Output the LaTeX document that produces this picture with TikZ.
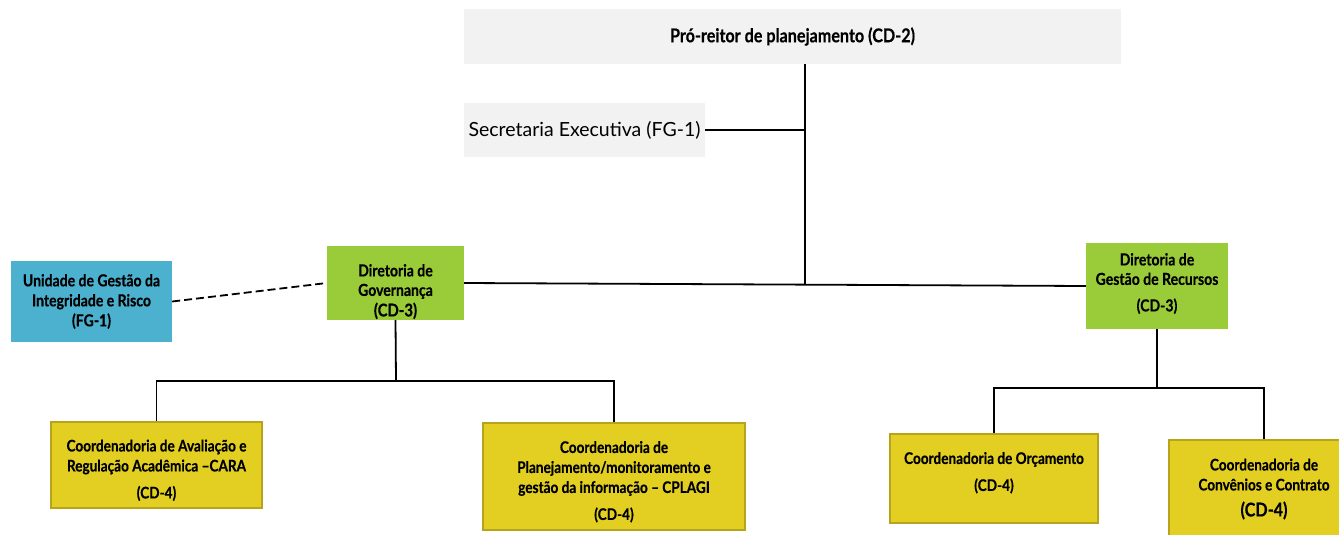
\documentclass[tikz,border=0pt]{standalone}
\usepackage{fontspec}
\setmainfont{Lato}
\newfontfamily\condfont{Lato}[FakeStretch=0.85,FakeBold=0.4]
\definecolor{cinza}{HTML}{F2F2F2}
\definecolor{verde}{HTML}{9ACB38}
\definecolor{azul}{HTML}{4BB1CF}
\definecolor{amarelo}{HTML}{E3CF22}
\definecolor{borda}{HTML}{B8A41C}
\begin{document}
\begin{tikzpicture}[x=1pt,y=-1pt,
	caixa/.style={align=center,inner sep=2pt,font=\condfont\bfseries\fontsize{16}{20}\selectfont},
	chefe/.style={caixa,fill=cinza,font=\condfont\bfseries\fontsize{19}{22}\selectfont},
	diretoria/.style={caixa,fill=verde,font=\condfont\bfseries\fontsize{16.5}{19.5}\selectfont},
	unidade/.style={caixa,fill=azul,font=\condfont\bfseries\fontsize{16.5}{20}\selectfont},
	coord/.style={caixa,fill=amarelo,draw=borda,line width=2pt},
	linha/.style={draw,line width=1.8pt}]
	\useasboundingbox[fill=white] (0,0) rectangle (1339,535);

	\node[chefe,minimum width=657,minimum height=55] (pro) at (792.5,36.5) {Pró-reitor de planejamento (CD-2)};
	\node[fill=cinza,minimum width=241,minimum height=54,font=\fontsize{19.5}{22}\selectfont,inner sep=0pt] (sec) at (584.5,130) {Secretaria Executiva (FG-1)};
	\node[diretoria,minimum width=137,minimum height=74] (gov) at (395.5,283) {Diretoria de\\Governança\\[1pt]{\fontsize{17.5}{20}\selectfont(CD-3)}\\[-34pt]};
	\node[diretoria,minimum width=142,minimum height=86] (rec) at (1157,286) {Diretoria de\\Gestão de Recursos\\[7pt](CD-3)\\[-12pt]};
	\node[unidade,minimum width=161,minimum height=81] (unid) at (91.5,301.5) {Unidade de Gestão da\\Integridade e Risco\\(FG-1)};
	\node[coord,minimum width=211,minimum height=86] (cara) at (156.5,465) {Coordenadoria de Avaliação e\\Regulação Acadêmica –CARA\\[7pt](CD-4)\\[-28pt]};
	\node[coord,minimum width=262,minimum height=107] (cplagi) at (614,476.5) {Coordenadoria de\\Planejamento/monitoramento e\\gestão da informação – CPLAGI\\[7pt](CD-4)\\[-28pt]};
	\node[coord,minimum width=208,minimum height=89] (orc) at (994,478.5) {Coordenadoria de Orçamento\\[7pt](CD-4)\\[-6pt]};
	\node[coord,minimum width=190,minimum height=105] (conv) at (1264,492.5) {Coordenadoria de\\Convênios e Contrato\\[6pt]{\fontsize{19}{21}\selectfont(CD-4)}\\[-10pt]};

	\coordinate (jsec) at (805,130);
	\coordinate (jmain) at (805,284);
	\coordinate (jgov) at (396,381);
	\coordinate (jrec) at (1157,388);

	\path[linha] (pro.south -| jsec) -- (jmain);
	\path[linha] (sec.east) -- (jsec);
	\path[linha] (gov.east) -- (rec.west);
	\path[draw,line width=1.8pt,dashed,dash pattern=on 8pt off 4pt] (unid.east) -- (gov.west);

	\path[linha] (gov.south) -- (jgov);
	\path[linha] (cara.north) |- (jgov) -| (cplagi.north);
	\path[linha] (rec.south) -- (jrec);
	\path[linha] (orc.north) |- (jrec) -| (conv.north);
\end{tikzpicture}
\end{document}
